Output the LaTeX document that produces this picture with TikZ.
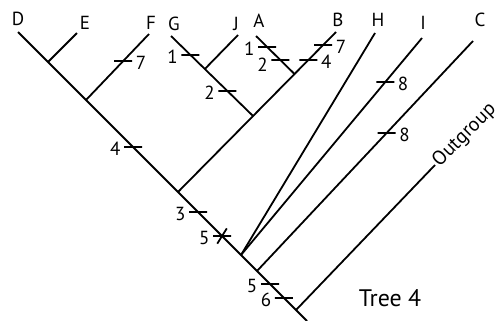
\documentclass[tikz,border=0pt]{standalone}
\usepackage{fontspec}
\setmainfont{PT Sans}
\usetikzlibrary{calc}
\tikzset{
	branch/.style={line width=1.8bp},
	taxon/.style={font=\fontsize{19}{19}\selectfont, inner sep=0pt},
	tickbar/.style={draw, line width=1.8bp, minimum width=18bp, minimum height=0pt,
		inner sep=0pt, outer sep=0pt},
	num/.style={font=\fontsize{19}{19}\selectfont, inner sep=3.5bp, yshift=-2bp}
}

\begin{document}
\begin{tikzpicture}[x=1bp,y=-1bp]
	\useasboundingbox (0,0) rectangle (504,320);
	% tips and junctions
	\coordinate (tD) at (18,32);
	\coordinate (root) at (307,321);
	\coordinate (jE) at (48,62);
	\coordinate (tE) at (77,33);
	\coordinate (jF) at (86,100);
	\coordinate (tF) at (149,34);
	\coordinate (jGB) at (178,192);
	\coordinate (tB) at (336,32);
	\coordinate (jAG) at ($(jGB)!0.475!(tB)$);
	\coordinate (jA) at ($(jGB)!0.7375!(tB)$);
	\coordinate (tA) at (256,36);
	\coordinate (tG) at (171,36);
	\coordinate (jG) at ($(jAG)!0.5875!(tG)$);
	\coordinate (tJ) at (238,35);
	\coordinate (jH) at (241,255);
	\coordinate (tH) at (375,33);
	\coordinate (tI) at (422,38);
	\coordinate (jC) at (257,271);
	\coordinate (tC) at (473,41);
	\coordinate (jO) at (296,310);
	\coordinate (tO) at (435,165);

	% branches
	\draw[branch] (tD) -- (root);
	\draw[branch] (jE) -- (tE);
	\draw[branch] (jF) -- (tF);
	\draw[branch] (jGB) -- (tB);
	\draw[branch] (jAG) -- (tG);
	\draw[branch] (jG) -- (tJ);
	\draw[branch] (jA) -- (tA);
	\draw[branch] (jH) -- (tH);
	\draw[branch] (jH) -- (tI);
	\draw[branch] (jC) -- (tC);
	\draw[branch] (jO) -- (tO);

	% taxa
	\node[taxon] (lD) at (18,19) {D};
	\node[taxon] (lE) at (85,23) {E};
	\node[taxon] (lF) at (151,23) {F};
	\node[taxon] (lG) at (174,24) {G};
	\node[taxon] (lJ) at (236,24) {J};
	\node[taxon] (lA) at (259,21) {A};
	\node[taxon] (lB) at (338,20) {B};
	\node[taxon] (lH) at (378,20) {H};
	\node[taxon] (lI) at (423,23) {I};
	\node[taxon] (lC) at (480,20) {C};
	\node[taxon, font=\fontsize{20}{20}\selectfont, rotate=45, anchor=west, inner sep=1.5bp]
		(lOut) at (tO) {Outgroup};

	% character changes
	\node[tickbar, label={[num]right:7}] (kF7) at ($(jF)!0.59!(tF)$) {};
	\node[tickbar, label={[num]left:4}] (k4) at ($(tD)!0.398!(root)$) {};
	\node[tickbar, label={[num]left:1}] (kG1) at ($(jAG)!0.7625!(tG)$) {};
	\node[tickbar, label={[num]left:2}] (kGJ2) at ($(jAG)!0.3125!(tG)$) {};
	\node[tickbar, label={[num]left:1}] (kA1) at ($(jA)!0.71!(tA)$) {};
	\node[tickbar, label={[num, yshift=-3bp]left:2}] (kA2) at ($(jA)!0.37!(tA)$) {};
	\node[tickbar, label={[num]right:4}] (kB4) at ($(jA)!0.333!(tB)$) {};
	\node[tickbar, label={[num]right:7}] (kB7) at ($(jA)!0.69!(tB)$) {};
	\node[tickbar, label={[num]left:3}] (k3) at ($(tD)!0.623!(root)$) {};
	\node[tickbar, label={[num]left:5}] (k5a) at ($(tD)!0.706!(root)$) {};
	\node[tickbar, rotate=58] (k5x) at (k5a) {};
	\node[tickbar, label={[num]left:5}] (k5b) at ($(tD)!0.872!(root)$) {};
	\node[tickbar, label={[num]left:6}] (k6) at ($(tD)!0.92!(root)$) {};
	\node[tickbar, label={[num]right:8}] (kI8) at ($(jH)!0.797!(tI)$) {};
	\node[tickbar, label={[num]right:8}] (kC8) at ($(jC)!0.6!(tC)$) {};

	\node[font=\fontsize{24}{24}\selectfont, inner sep=0pt] (title) at (390,298) {Tree 4};
\end{tikzpicture}
\end{document}
